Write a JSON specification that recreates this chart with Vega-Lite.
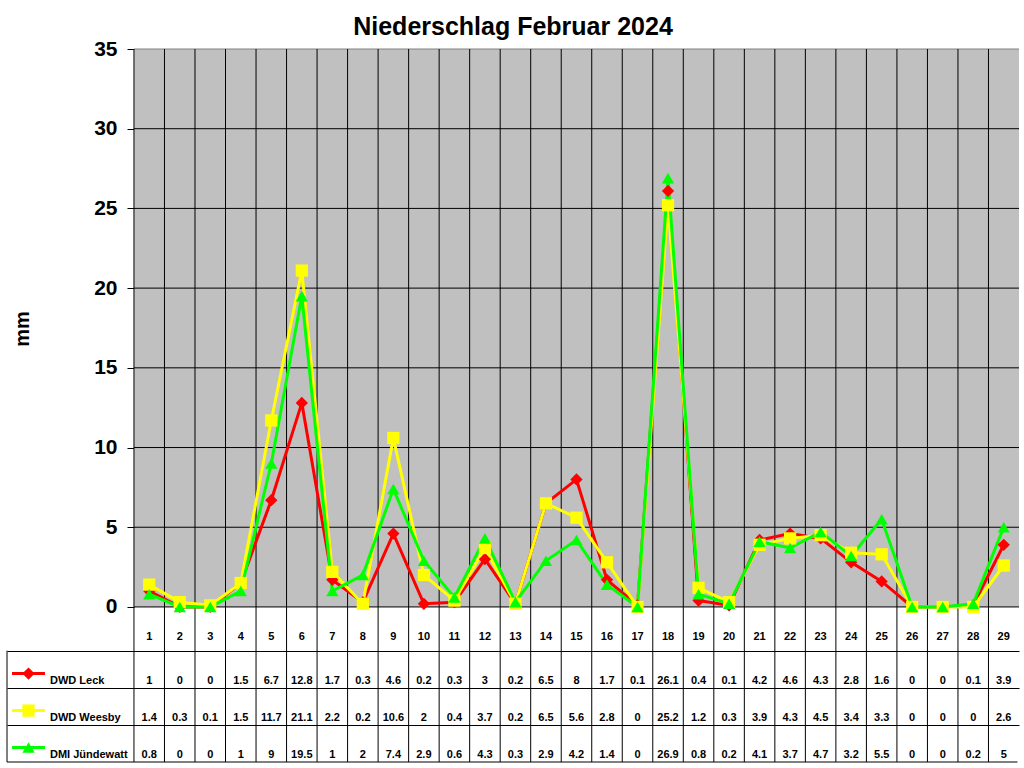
{
  "$schema": "https://vega.github.io/schema/vega-lite/v6.json",
  "width": 1012,
  "height": 713,
  "autosize": {"type": "none"},
  "padding": {"left": 7, "top": 49, "right": 5, "bottom": 6},
  "background": "white",
  "title": {
    "text": "Niederschlag Februar 2024",
    "font": "Liberation Sans",
    "fontSize": 25,
    "fontWeight": "bold",
    "color": "black",
    "anchor": "middle",
    "offset": -2
  },
  "config": {
    "font": "Liberation Sans",
    "view": {"stroke": null},
    "legend": {"disable": true},
    "axisX": {"disable": true}
  },
  "datasets": {
    "rain": [
      {"day": 1, "DWD Leck": 1, "DWD Weesby": 1.4, "DMI Jündewatt": 0.8},
      {"day": 2, "DWD Leck": 0, "DWD Weesby": 0.3, "DMI Jündewatt": 0},
      {"day": 3, "DWD Leck": 0, "DWD Weesby": 0.1, "DMI Jündewatt": 0},
      {"day": 4, "DWD Leck": 1.5, "DWD Weesby": 1.5, "DMI Jündewatt": 1},
      {"day": 5, "DWD Leck": 6.7, "DWD Weesby": 11.7, "DMI Jündewatt": 9},
      {"day": 6, "DWD Leck": 12.8, "DWD Weesby": 21.1, "DMI Jündewatt": 19.5},
      {"day": 7, "DWD Leck": 1.7, "DWD Weesby": 2.2, "DMI Jündewatt": 1},
      {"day": 8, "DWD Leck": 0.3, "DWD Weesby": 0.2, "DMI Jündewatt": 2},
      {"day": 9, "DWD Leck": 4.6, "DWD Weesby": 10.6, "DMI Jündewatt": 7.4},
      {"day": 10, "DWD Leck": 0.2, "DWD Weesby": 2, "DMI Jündewatt": 2.9},
      {"day": 11, "DWD Leck": 0.3, "DWD Weesby": 0.4, "DMI Jündewatt": 0.6},
      {"day": 12, "DWD Leck": 3, "DWD Weesby": 3.7, "DMI Jündewatt": 4.3},
      {"day": 13, "DWD Leck": 0.2, "DWD Weesby": 0.2, "DMI Jündewatt": 0.3},
      {"day": 14, "DWD Leck": 6.5, "DWD Weesby": 6.5, "DMI Jündewatt": 2.9},
      {"day": 15, "DWD Leck": 8, "DWD Weesby": 5.6, "DMI Jündewatt": 4.2},
      {"day": 16, "DWD Leck": 1.7, "DWD Weesby": 2.8, "DMI Jündewatt": 1.4},
      {"day": 17, "DWD Leck": 0.1, "DWD Weesby": 0, "DMI Jündewatt": 0},
      {"day": 18, "DWD Leck": 26.1, "DWD Weesby": 25.2, "DMI Jündewatt": 26.9},
      {"day": 19, "DWD Leck": 0.4, "DWD Weesby": 1.2, "DMI Jündewatt": 0.8},
      {"day": 20, "DWD Leck": 0.1, "DWD Weesby": 0.3, "DMI Jündewatt": 0.2},
      {"day": 21, "DWD Leck": 4.2, "DWD Weesby": 3.9, "DMI Jündewatt": 4.1},
      {"day": 22, "DWD Leck": 4.6, "DWD Weesby": 4.3, "DMI Jündewatt": 3.7},
      {"day": 23, "DWD Leck": 4.3, "DWD Weesby": 4.5, "DMI Jündewatt": 4.7},
      {"day": 24, "DWD Leck": 2.8, "DWD Weesby": 3.4, "DMI Jündewatt": 3.2},
      {"day": 25, "DWD Leck": 1.6, "DWD Weesby": 3.3, "DMI Jündewatt": 5.5},
      {"day": 26, "DWD Leck": 0, "DWD Weesby": 0, "DMI Jündewatt": 0},
      {"day": 27, "DWD Leck": 0, "DWD Weesby": 0, "DMI Jündewatt": 0},
      {"day": 28, "DWD Leck": 0.1, "DWD Weesby": 0, "DMI Jündewatt": 0.2},
      {"day": 29, "DWD Leck": 3.9, "DWD Weesby": 2.6, "DMI Jündewatt": 5}
    ],
    "levels": [
      {"level": 0}, {"level": 5}, {"level": 10}, {"level": 15},
      {"level": 20}, {"level": 25}, {"level": 30}
    ],
    "edges": [
      {"edge": 0.5}, {"edge": 1.5}, {"edge": 2.5}, {"edge": 3.5}, {"edge": 4.5},
      {"edge": 5.5}, {"edge": 6.5}, {"edge": 7.5}, {"edge": 8.5}, {"edge": 9.5},
      {"edge": 10.5}, {"edge": 11.5}, {"edge": 12.5}, {"edge": 13.5}, {"edge": 14.5},
      {"edge": 15.5}, {"edge": 16.5}, {"edge": 17.5}, {"edge": 18.5}, {"edge": 19.5},
      {"edge": 20.5}, {"edge": 21.5}, {"edge": 22.5}, {"edge": 23.5}, {"edge": 24.5},
      {"edge": 25.5}, {"edge": 26.5}, {"edge": 27.5}, {"edge": 28.5}
    ]
  },
  "resolve": {"scale": {"y": "independent"}},
  "layer": [
    {
      "layer": [
        {
          "data": {"values": [{}]},
          "mark": {"type": "rect", "fill": "#c0c0c0"},
          "encoding": {
            "x": {"datum": 0.5},
            "x2": {"datum": 29.5},
            "y": {"datum": 0},
            "y2": {"datum": 35}
          }
        },
        {
          "data": {"name": "levels"},
          "mark": {"type": "rule", "color": "black", "strokeWidth": 1},
          "encoding": {
            "x": {"datum": 0.5},
            "x2": {"datum": 29.5},
            "y": {
              "field": "level",
              "type": "quantitative",
              "scale": {"domain": [-9.726, 35], "nice": false, "zero": false},
              "axis": {
                "orient": "left",
                "offset": -127,
                "values": [0, 5, 10, 15, 20, 25, 30, 35],
                "domain": false,
                "grid": false,
                "tickSize": 7,
                "tickColor": "black",
                "tickWidth": 1,
                "labelFont": "Liberation Sans",
                "labelFontSize": 21,
                "labelFontWeight": "bold",
                "labelColor": "black",
                "labelPadding": 10,
                "title": "mm",
                "titleFont": "Liberation Sans",
                "titleFontSize": 20,
                "titleFontWeight": "bold",
                "titleColor": "black",
                "titleAngle": -90,
                "titleAlign": "center",
                "titleBaseline": "bottom",
                "titleX": -102,
                "titleY": 279.5
              }
            }
          }
        },
        {
          "data": {"values": [{}]},
          "mark": {"type": "rule", "color": "#808080", "strokeWidth": 1},
          "encoding": {
            "x": {"datum": 0.5},
            "x2": {"datum": 29.5},
            "y": {"datum": 35}
          }
        },
        {
          "data": {"name": "edges"},
          "mark": {"type": "rule", "color": "black", "strokeWidth": 1},
          "encoding": {
            "x": {"field": "edge", "type": "quantitative"},
            "y": {"datum": 35},
            "y2": {"datum": -9.726}
          }
        },
        {
          "data": {"values": [{}]},
          "mark": {"type": "rule", "color": "black", "strokeWidth": 1},
          "encoding": {
            "x": {"datum": -3.66},
            "y": {"datum": -2.742},
            "y2": {"datum": -9.726}
          }
        },
        {
          "data": {"values": [{}]},
          "mark": {"type": "rule", "color": "black", "strokeWidth": 1},
          "encoding": {
            "x": {"datum": -3.66},
            "x2": {"datum": 29.45},
            "y": {"datum": -9.726}
          }
        },
        {
          "data": {"name": "rain"},
          "transform": [
            {"fold": ["DWD Leck", "DWD Weesby", "DMI Jündewatt"], "as": ["station", "mm"]}
          ],
          "mark": {"type": "line", "strokeWidth": 3},
          "encoding": {
            "x": {
              "field": "day",
              "type": "quantitative",
              "scale": {"domain": [-3.66, 29.5], "nice": false, "zero": false}
            },
            "y": {"field": "mm", "type": "quantitative"},
            "color": {
              "field": "station",
              "type": "nominal",
              "scale": {
                "domain": ["DWD Leck", "DWD Weesby", "DMI Jündewatt"],
                "range": ["#ff0000", "#ffff00", "#00ff00"]
              }
            }
          }
        },
        {
          "data": {"name": "rain"},
          "transform": [
            {"fold": ["DWD Leck", "DWD Weesby", "DMI Jündewatt"], "as": ["station", "mm"]}
          ],
          "mark": {"type": "point", "filled": true, "opacity": 1, "size": 150},
          "encoding": {
            "x": {"field": "day", "type": "quantitative"},
            "y": {"field": "mm", "type": "quantitative"},
            "color": {"field": "station", "type": "nominal"},
            "shape": {
              "field": "station",
              "type": "nominal",
              "scale": {
                "domain": ["DWD Leck", "DWD Weesby", "DMI Jündewatt"],
                "range": ["diamond", "square", "triangle-up"]
              }
            }
          }
        },
        {
          "data": {"name": "rain"},
          "mark": {"type": "text", "fontSize": 11, "fontWeight": "bold", "color": "black", "align": "center", "baseline": "alphabetic"},
          "encoding": {
            "x": {"field": "day", "type": "quantitative"},
            "y": {"datum": -2.07},
            "text": {"field": "day", "type": "quantitative"}
          }
        }
      ]
    },
    {
      "data": {"name": "rain"},
      "transform": [
        {"fold": ["DWD Leck", "DWD Weesby", "DMI Jündewatt"], "as": ["station", "mm"]}
      ],
      "layer": [
        {
          "mark": {"type": "text", "fontSize": 11, "fontWeight": "bold", "color": "black", "align": "center", "baseline": "alphabetic"},
          "encoding": {
            "x": {"field": "day", "type": "quantitative"},
            "y": {
              "field": "station",
              "type": "nominal",
              "bandPosition": 0.9,
              "scale": {
                "type": "band",
                "domain": ["DWD Leck", "DWD Weesby", "DMI Jündewatt"],
                "paddingInner": 0,
                "paddingOuter": 0,
                "range": [602, 713]
              },
              "axis": {
                "orient": "right",
                "bandPosition": 0,
                "grid": true,
                "gridColor": "black",
                "gridWidth": 1,
                "gridOpacity": 1,
                "labels": false,
                "ticks": false,
                "domain": false,
                "title": null
              }
            },
            "text": {"field": "mm", "type": "quantitative"}
          }
        },
        {
          "transform": [{"filter": "datum.day == 1"}],
          "mark": {"type": "rule", "strokeWidth": 3},
          "encoding": {
            "x": {"datum": -3.496},
            "x2": {"datum": -2.415},
            "y": {"field": "station", "type": "nominal", "bandPosition": 0.61},
            "color": {"field": "station", "type": "nominal"}
          }
        },
        {
          "transform": [{"filter": "datum.day == 1"}],
          "mark": {"type": "point", "filled": true, "opacity": 1, "size": 150},
          "encoding": {
            "x": {"datum": -2.955},
            "y": {"field": "station", "type": "nominal", "bandPosition": 0.61},
            "color": {"field": "station", "type": "nominal"},
            "shape": {"field": "station", "type": "nominal"}
          }
        },
        {
          "transform": [{"filter": "datum.day == 1"}],
          "mark": {"type": "text", "fontSize": 11, "fontWeight": "bold", "color": "black", "align": "left", "baseline": "alphabetic"},
          "encoding": {
            "x": {"datum": -2.251},
            "y": {"field": "station", "type": "nominal", "bandPosition": 0.9},
            "text": {"field": "station", "type": "nominal"}
          }
        }
      ]
    }
  ]
}
